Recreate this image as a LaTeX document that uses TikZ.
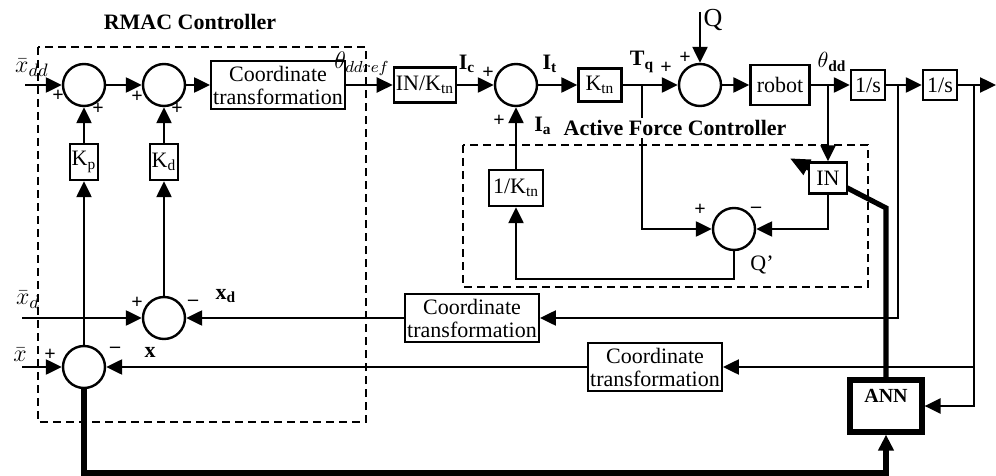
\documentclass[tikz,border=0pt]{standalone}
\usepackage{fontspec}
\setmainfont{Liberation Serif}
\usetikzlibrary{arrows.meta,backgrounds,calc}

\begin{document}
\begin{tikzpicture}[x=0.5pt, y=-0.5pt, >={Triangle[length=8pt,width=7.5pt]},
    font=\fontsize{11}{12}\selectfont, line width=1.2pt,
    summe/.style={draw, circle, minimum size=21pt, inner sep=0pt},
    block/.style={draw, rectangle, inner sep=1pt, fill=white},
    trafo/.style={block, align=center, minimum width=65pt, minimum height=24pt, font=\fontsize{11}{11.5}\selectfont},
    dick/.style={line width=2.6pt},
    rahmen/.style={dash pattern=on 4pt off 2.5pt},
    zeichen/.style={font=\bfseries\fontsize{10}{10}\selectfont, inner sep=0pt}]
    \useasboundingbox (0,0) rectangle (996,476);
    % Summenpunkte
    \foreach \n/\x/\y in {sum1/84/85, sum2/164/85, sum3/516/85, sum4/700/85,
        sum5/734/229, sum6/164/318, sum7/84/367}
        \node[summe] (\n) at (\x,\y) {};
    % Bloecke
    \node[block, minimum width=14pt, minimum height=18pt] (Kp) at (84,162) {K\textsubscript{p}};
    \node[block, minimum width=14pt, minimum height=18pt] (Kd) at (164,162) {K\textsubscript{d}};
    \node[trafo] (trafo1) at (278,85) {Coordinate\\transformation};
    \node[block, minimum width=30.5pt, minimum height=17.5pt] (INK) at (425,85) {IN/K\textsubscript{tn}};
    \node[block, minimum width=21.5pt, minimum height=16.5pt] (Ktn) at (600,85) {K\textsubscript{tn}};
    \node[block, minimum width=29.5pt, minimum height=20pt] (robot) at (780,85) {robot};
    \node[block, minimum width=17pt, minimum height=15pt] (int1) at (868,85) {1/s};
    \node[block, minimum width=17pt, minimum height=15pt] (int2) at (940,85) {1/s};
    \node[block, minimum width=19pt, minimum height=15.5pt] (IN) at (828,178) {IN};
    \node[block, minimum width=27pt, minimum height=18pt] (invK) at (516,188) {1/K\textsubscript{tn}};
    \node[trafo] (trafo2) at (472,318) {Coordinate\\transformation};
    \node[trafo] (trafo3) at (655,367) {Coordinate\\transformation};
    \node[block, dick, minimum width=36pt, minimum height=26pt, font=\bfseries\fontsize{10}{12}\selectfont,
        text depth=10pt] (ANN) at (886,406) {ANN};
    % Rahmen
    \draw[rahmen] (38,47) rectangle (366,422);
    \draw[rahmen] (463,145) rectangle (868,287);
    % Vorwaertszweig
    \coordinate (ein) at (25,85);
    \coordinate (aus) at (996,85);
    \coordinate (Qein) at (700,12);
    \draw[->] (ein) -- (sum1);
    \draw[->] (sum1) -- (sum2);
    \draw[->] (sum2) -- (trafo1);
    \draw[->] (trafo1) -- (INK);
    \draw[->] (INK) -- (sum3);
    \draw[->] (sum3) -- (Ktn);
    \draw[->] (Ktn) -- (sum4);
    \draw[->] (Qein) -- (sum4);
    \draw[->] (sum4) -- (robot);
    \draw[->] (robot) -- (int1);
    \draw[->] (int1) -- (int2);
    \draw[->] (int2) -- (aus);
    % RMAC Rueckfuehrung
    \coordinate (xdein) at (22,318);
    \coordinate (xein) at (22,367);
    \draw[->] (sum7) -- (Kp);
    \draw[->] (Kp) -- (sum1);
    \draw[->] (sum6) -- (Kd);
    \draw[->] (Kd) -- (sum2);
    \draw[->] (xdein) -- (sum6);
    \draw[->] (xein) -- (sum7);
    \draw[->] (trafo2) -- (sum6);
    \draw[->] (trafo3) -- (sum7);
    \coordinate (v1) at (898,85);
    \coordinate (v2) at (974,85);
    \draw[->] (v1) |- (trafo2);
    \draw[->] (v2) |- (ANN);
    \draw[->] (v2 |- trafo3) -- (trafo3);
    % Active Force Control
    \coordinate (tq) at (642,85);
    \coordinate (tdd) at (828,85);
    \draw[->] (tq) |- (sum5);
    \draw[->] (tdd) -- (IN);
    \draw[->] (IN.south) |- (sum5);
    \draw[->] (sum5.south) -- ++(0,28) -| (invK.south);
    \draw[->] (invK) -- (sum3);
    % ANN
    \coordinate (unten) at (886,473);
    \coordinate (knick) at (886,208);
    \draw[dick, ->] (sum7.south) |- (unten) -- (ANN);
    \begin{scope}[on background layer]
        \draw[dick, -{Triangle[length=10pt,width=8pt]}] (ANN) -- (knick) -- ($(knick)!1.66!(IN.center)$);
    \end{scope}
    % Beschriftung
    \node[font=\bfseries\fontsize{11}{12}\selectfont] (rmac) at (190,22) {RMAC Controller};
    \node[font=\bfseries\fontsize{11}{12}\selectfont, fill=white, inner sep=1pt] (afc) at (675,128) {Active Force Controller};
    \node (lxdd) at (32,68) {\fontsize{13}{13}\selectfont$\bar{x}_{dd}$};
    \node (lxd) at (28,300) {\fontsize{13}{13}\selectfont$\bar{x}_{d}$};
    \node (lx) at (20,355) {\fontsize{13}{13}\selectfont$\bar{x}$};
    \node (lthr) at (362,64) {\fontsize{12}{12}\selectfont$\theta_{ddref}$};
    \node (lic) at (467,64) {\textbf{I\textsubscript{c}}};
    \node (lit) at (550,64) {\textbf{I\textsubscript{t}}};
    \node (ltq) at (642,62) {\textbf{T\textsubscript{q}}};
    \node (ltdd) at (832,62) {$\theta$\textbf{\textsubscript{dd}}};
    \node (lia) at (543,126) {\textbf{I\textsubscript{a}}};
    \node (lq) at (713,20) {\fontsize{13}{13}\selectfont Q};
    \node (lqs) at (762,265) {Q’};
    \node (lxdb) at (226,296) {\textbf{x\textsubscript{d}}};
    \node (lxb) at (150,352) {\textbf{x}};
    % Vorzeichen
    \foreach \s/\x/\y [count=\i] in {+/58/96, +/98/109, +/137/97, +/177/109, +/488/73, +/499/121,
        +/666/68, +/685/58, +/700/210, --/756/210, +/137/303, --/193/303, +/50/355, --/115/350}
        \node[zeichen] (z\i) at (\x,\y) {\s};
\end{tikzpicture}
\end{document}
